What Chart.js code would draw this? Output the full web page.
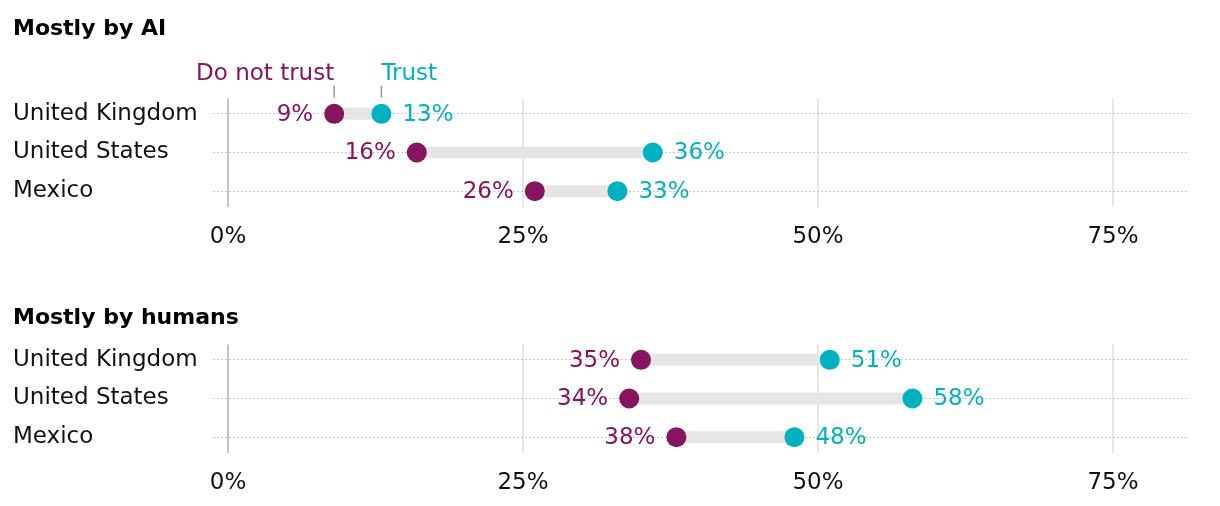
<!DOCTYPE html>
<html>
<head>
<meta charset="utf-8">
<script src="https://cdn.jsdelivr.net/npm/chart.js@4.4.1/dist/chart.umd.min.js"></script>
<style>
body{margin:0;background:#fff;}
.panel{position:relative;width:1220px;}
</style>
</head>
<body>
<div class="panel" style="height:260px"><canvas id="canva1"></canvas></div>
<div class="panel" style="height:246px"><canvas id="canva2"></canvas></div>
<script>
// dados
const paises = ["United Kingdom", "United States", "Mexico"]
const aiNaoConfia = [9, 16, 26]
const aiConfia = [13, 36, 33]
const humanosNaoConfia = [35, 34, 38]
const humanosConfia = [51, 58, 48]
const ticksX = [0, 25, 50, 75]

const roxo = "#86145e"
const azul = "#00b2bf"
const fonte = "'DejaVu Sans', sans-serif"

// rótulos de valor ao lado das bolinhas + legenda "Do not trust / Trust"
const rotulos = {
  id: "rotulos",
  afterDatasetsDraw(chart, args, opts) {
    const ctx = chart.ctx
    ctx.save()
    ctx.font = "23px " + fonte
    ctx.textBaseline = "middle"
    const n = chart.data.datasets.length
    const nao = chart.getDatasetMeta(n - 2)
    const sim = chart.getDatasetMeta(n - 1)
    nao.data.forEach(function(p, i) {
      ctx.fillStyle = roxo
      ctx.textAlign = "right"
      ctx.fillText(chart.data.datasets[n - 2].data[i].x + "%", p.x - 21, p.y + 1)
    })
    sim.data.forEach(function(p, i) {
      ctx.fillStyle = azul
      ctx.textAlign = "left"
      ctx.fillText(chart.data.datasets[n - 1].data[i].x + "%", p.x + 21, p.y + 1)
    })
    if (opts.legenda) {
      const a = nao.data[0], b = sim.data[0]
      ctx.strokeStyle = "#999"
      ctx.lineWidth = 1.5
      ctx.beginPath()
      ctx.moveTo(a.x, a.y - 28); ctx.lineTo(a.x, a.y - 16)
      ctx.moveTo(b.x, b.y - 28); ctx.lineTo(b.x, b.y - 16)
      ctx.stroke()
      ctx.textBaseline = "alphabetic"
      ctx.fillStyle = roxo
      ctx.textAlign = "right"
      ctx.fillText("Do not trust", a.x, a.y - 34)
      ctx.fillStyle = azul
      ctx.textAlign = "left"
      ctx.fillText("Trust", b.x, b.y - 34)
    }
    ctx.restore()
  }
}

function plotarPainel(idCanvas, titulo, naoConfia, confia, topoTitulo, baixoTitulo, legenda) {
  const datasets = []
  for (var i = 0; i < paises.length; i++) {
    datasets.push({
      type: "line",
      order: 2,
      data: [{x: naoConfia[i], y: i}, {x: confia[i], y: i}],
      borderColor: "#e5e5e5",
      borderWidth: 12,
      pointRadius: 0,
      borderCapStyle: "butt"
    })
  }
  datasets.push({
    order: 1,
    data: naoConfia.map((v, i) => ({x: v, y: i})),
    backgroundColor: roxo,
    borderWidth: 0,
    pointRadius: 10,
    pointHoverRadius: 10
  })
  datasets.push({
    order: 1,
    data: confia.map((v, i) => ({x: v, y: i})),
    backgroundColor: azul,
    borderWidth: 0,
    pointRadius: 10,
    pointHoverRadius: 10
  })

  const config = {
    type: "scatter",
    data: {datasets: datasets},
    options: {
      responsive: true,
      maintainAspectRatio: false,
      animation: false,
      events: [],
      layout: {padding: {left: 13, right: 33, top: 0, bottom: 9.2}},
      plugins: {
        legend: {display: false},
        tooltip: {enabled: false},
        title: {
          display: true,
          text: titulo,
          align: "start",
          color: "#000",
          font: {family: fonte, size: 22, weight: "bold"},
          padding: {top: topoTitulo, bottom: baixoTitulo}
        },
        rotulos: {legenda: legenda}
      },
      scales: {
        x: {
          type: "linear",
          min: -1.27,
          max: 81.27,
          afterBuildTicks: function(s) { s.ticks = ticksX.map(v => ({value: v})) },
          afterFit: function(s) { s.height = 44.2 },
          ticks: {
            callback: v => v + "%",
            color: "#111",
            font: {family: fonte, size: 23},
            padding: 16.6,
            maxRotation: 0
          },
          grid: {
            color: c => (c.tick && c.tick.value === 0) ? "#c4c4c4" : "#e6e6e6",
            lineWidth: 2,
            drawTicks: false
          },
          border: {display: false}
        },
        y: {
          type: "linear",
          reverse: true,
          min: -0.4,
          max: 2.4,
          afterBuildTicks: function(s) { s.ticks = paises.map((p, i) => ({value: i})) },
          afterFit: function(s) { s.width = 200 },
          ticks: {
            callback: v => paises[v],
            crossAlign: "far",
            color: "#111",
            font: {family: fonte, size: 23}
          },
          grid: {
            color: "#c8c8c8",
            lineWidth: 1,
            drawTicks: false
          },
          border: {display: false, dash: [2, 2]}
        }
      }
    },
    plugins: [rotulos]
  }
  new Chart(document.getElementById(idCanvas).getContext("2d"), config)
}

plotarPainel("canva1", "Mostly by AI", aiNaoConfia, aiConfia, 15.8, 56.2, true)
plotarPainel("canva2", "Mostly by humans", humanosNaoConfia, humanosConfia, 44.8, 13.2, false)
</script>
</body>
</html>
